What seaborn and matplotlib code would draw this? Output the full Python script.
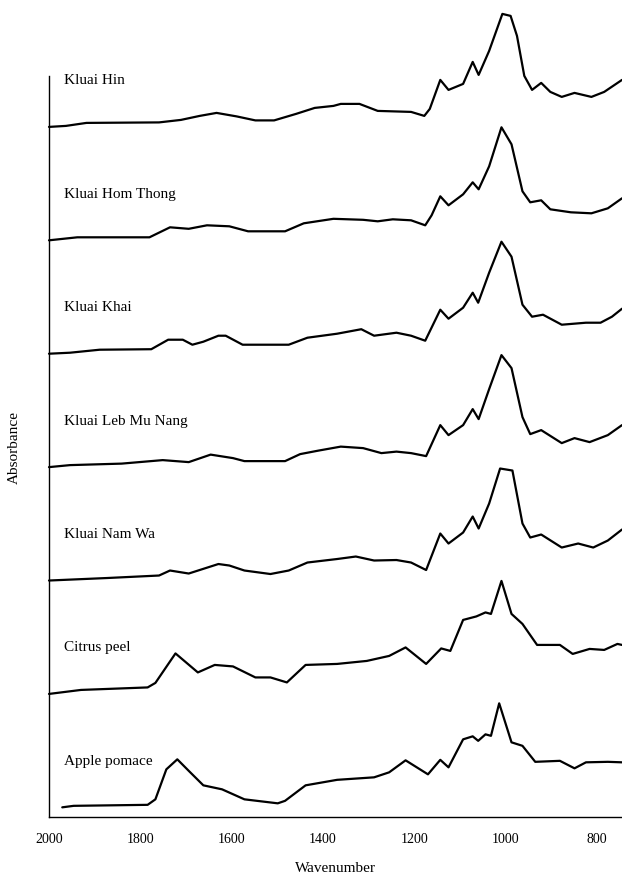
import pandas as pd
import matplotlib
matplotlib.use('Agg')
import matplotlib.pyplot as plt
import seaborn as sns

# FTIR spectra, absorbance in arbitrary units (height above each trace's own baseline)
samples = ['Kluai Hin', 'Kluai Hom Thong', 'Kluai Khai', 'Kluai Leb Mu Nang',
           'Kluai Nam Wa', 'Citrus peel', 'Apple pomace']

hin_wn = [2000, 1963, 1918, 1759, 1711, 1670, 1633, 1589, 1548, 1507, 1459, 1418, 1377, 1361, 1320,
          1280, 1207, 1178, 1166, 1143, 1125, 1093, 1072, 1059, 1036, 1007, 989, 975, 959, 942,
          922, 902, 877, 849, 812, 784, 745]
hin_abs = [0, 1, 4, 4.5, 7, 11, 14, 10.5, 6.5, 6.5, 13, 19, 21, 23, 23,
           16, 15, 11, 18, 47, 37, 43, 65, 52, 76, 113, 111, 91, 51, 37,
           44, 35, 30, 34, 30, 35, 47]

hom_wn = [2000, 1938, 1780, 1735, 1694, 1654, 1605, 1564, 1483, 1442, 1377, 1312, 1280, 1247, 1207,
          1176, 1162, 1143, 1125, 1093, 1072, 1059, 1036, 1009, 987, 963, 946, 922, 902, 857,
          812, 776, 745]
hom_abs = [0, 3, 3, 13, 11.5, 15, 14, 9, 9, 17, 21.5, 20.5, 19, 21, 20,
           15, 25, 44, 35, 46, 58, 51, 74, 113, 96, 49, 38, 40, 31, 28,
           27, 32, 42]

khai_wn = [2000, 1954, 1889, 1776, 1739, 1707, 1686, 1662, 1629, 1613, 1576, 1475, 1434, 1369, 1316,
           1288, 1239, 1207, 1176, 1143, 1125, 1093, 1072, 1060, 1036, 1009, 987, 963, 942, 918,
           877, 824, 792, 767, 745]
khai_abs = [0, 1, 4, 4.5, 14, 14, 9, 12, 18, 18, 9, 9, 16, 20, 24.5,
            18, 21, 18, 13, 44, 35, 46, 61, 51, 81, 112, 97, 49, 37, 39,
            29, 31, 31, 37, 45]

leb_wn = [2000, 1954, 1841, 1751, 1694, 1646, 1597, 1572, 1483, 1450, 1410, 1361, 1312, 1272, 1239,
          1207, 1174, 1143, 1125, 1093, 1072, 1059, 1036, 1009, 987, 963, 946, 922, 877, 849,
          816, 776, 745]
leb_abs = [0, 2, 3.5, 7, 5, 12.5, 9, 6, 6, 13, 16.5, 20.5, 19, 14, 15.5,
           14, 11, 42, 32, 42, 58, 48, 78, 112, 99, 50, 33, 37, 24, 29,
           25, 32, 42]

namwa_wn = [2000, 1873, 1759, 1735, 1694, 1629, 1605, 1572, 1515, 1475, 1434, 1369, 1328, 1288, 1239,
            1207, 1174, 1143, 1125, 1093, 1072, 1059, 1036, 1012, 985, 963, 946, 922, 877, 841,
            808, 776, 745]
namwa_abs = [0, 2.5, 5, 10, 7, 16.5, 15, 10, 6.5, 10, 18, 21.5, 24, 20, 20.5,
             18, 10.5, 47, 37, 48, 64, 52, 77, 112, 110, 57, 43, 46, 33, 37,
             33, 40, 51]

citrus_wn = [2000, 1930, 1784, 1767, 1723, 1674, 1637, 1597, 1548, 1515, 1479, 1438, 1369, 1304, 1255,
             1219, 1174, 1141, 1121, 1093, 1064, 1044, 1032, 1009, 987, 963, 931, 881, 853, 816,
             784, 755, 745]
citrus_abs = [0, 4, 6.5, 11, 40.5, 21.5, 29, 27.5, 16.5, 16.5, 11.5, 29, 30, 33, 38,
              46.5, 30, 45.5, 43, 74, 77.5, 81.5, 80, 113, 80, 70, 49, 49, 40, 45,
              44, 50, 49]

apple_wn = [1971, 1946, 1784, 1767, 1743, 1719, 1694, 1662, 1621, 1572, 1499, 1483, 1438, 1369, 1288,
            1255, 1219, 1170, 1143, 1125, 1093, 1072, 1060, 1044, 1032, 1014, 987, 963, 935, 881,
            849, 824, 776, 745]
apple_abs = [0, 1.5, 2.5, 8, 38, 48, 36.5, 22, 18, 8, 4, 6.5, 22, 27.5, 30,
             35, 47, 33, 47.5, 40, 68, 71, 66.5, 73, 71.5, 104, 65, 61.5, 45.5, 46.5,
             39, 45, 45.5, 45]

wn_lists = [hin_wn, hom_wn, khai_wn, leb_wn, namwa_wn, citrus_wn, apple_wn]
abs_lists = [hin_abs, hom_abs, khai_abs, leb_abs, namwa_abs, citrus_abs, apple_abs]

# vertical stacking of the traces (top trace first)
step = 113.4
base = 9.7
offsets = [base + step * (len(samples) - 1 - i) for i in range(len(samples))]

rows = []
for name, wn, ab, off in zip(samples, wn_lists, abs_lists, offsets):
    for w, a in zip(wn, ab):
        rows.append({'sample': name, 'wavenumber': w, 'absorbance': a + off})
df = pd.DataFrame(rows)

sns.set_style('white')
plt.rcParams['font.family'] = ['Liberation Serif', 'DejaVu Serif']
plt.rcParams['text.color'] = 'black'
plt.rcParams['axes.labelcolor'] = 'black'
plt.rcParams['xtick.color'] = 'black'

fig = plt.figure(figsize=(6.22, 8.78), dpi=100)
ax = fig.add_axes([0.0788, 0.0683, 0.9212, 0.844])

sns.lineplot(data=df, x='wavenumber', y='absorbance', hue='sample', palette=['black'] * len(samples),
             estimator=None, sort=False, legend=False, linewidth=1.6, ax=ax)
for line in ax.lines:
    line.set_clip_on(False)
    line.set_solid_joinstyle('round')

for name, off in zip(samples, offsets):
    ax.text(1967, off + 47, name, fontsize=11, va='center', ha='left', color='black')

ax.set_xlim(2000, 745)
ax.set_ylim(0, 741)
ax.set_xticks([2000, 1800, 1600, 1400, 1200, 1000, 800])
ax.set_yticks([])
ax.tick_params(axis='x', direction='out', length=7, width=1, labelsize=10, pad=4, color='black',
               labelcolor='black')
for s in ['top', 'right']:
    ax.spines[s].set_visible(False)
for s in ['left', 'bottom']:
    ax.spines[s].set_color('black')
    ax.spines[s].set_linewidth(1.0)
ax.set_xlabel('Wavenumber', fontsize=11, labelpad=11)
ax.set_ylabel('Absorbance', fontsize=11, labelpad=20)

plt.savefig('out.png', dpi=100)
